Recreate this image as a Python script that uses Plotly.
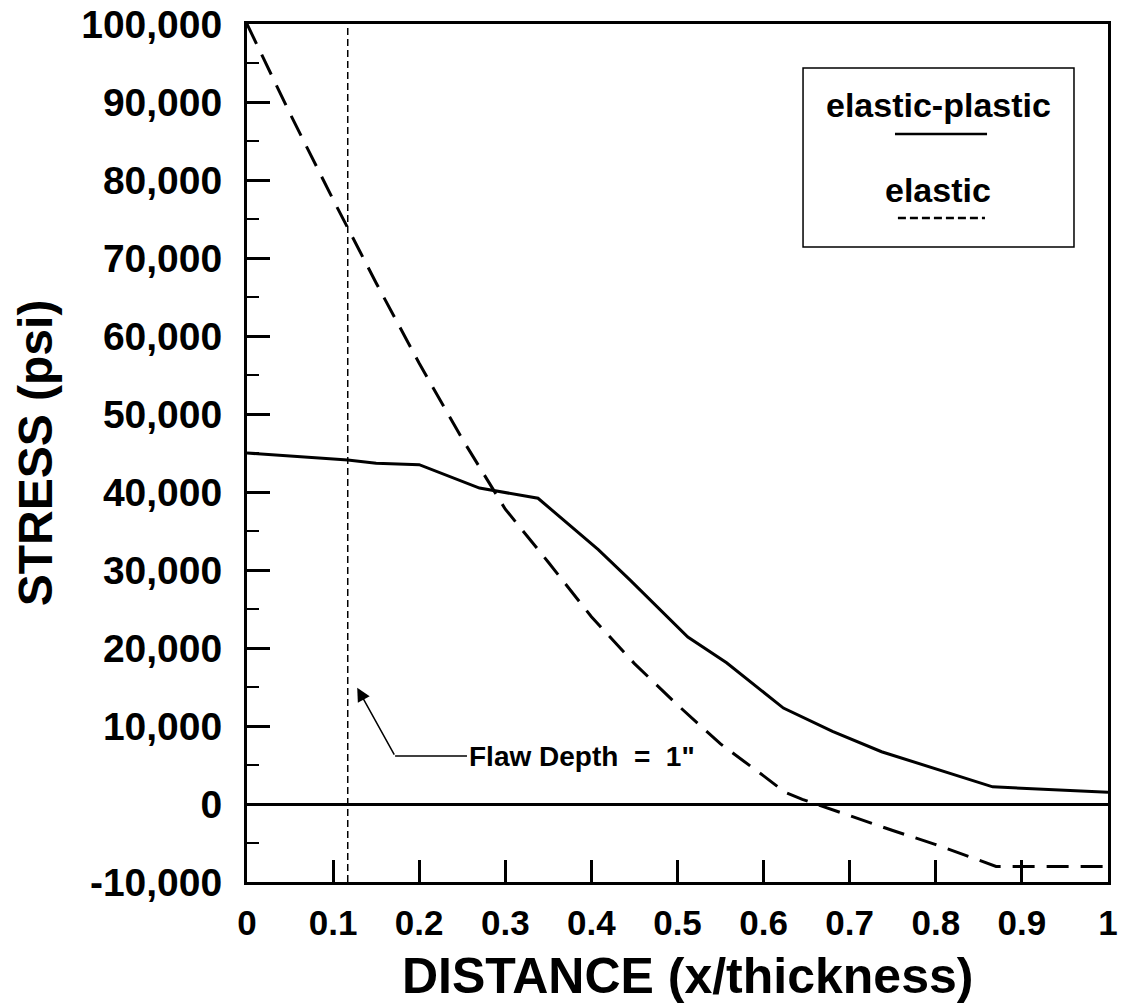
import plotly.graph_objects as go

# ---- data ----
elastic_x = [0, 0.05, 0.1, 0.15, 0.2, 0.25, 0.3, 0.35, 0.4, 0.45, 0.5, 0.55, 0.6, 0.625, 0.645, 0.7, 0.75, 0.8, 0.87, 1.0]
elastic_y = [100000, 88500, 77500, 66800, 56500, 46800, 37800, 31000, 24000, 18000, 12700, 7700, 3600, 1500, 600, -1500, -3400, -5200, -8000, -8000]

ep_x = [0, 0.06, 0.117, 0.15, 0.2, 0.27, 0.338, 0.408, 0.445, 0.512, 0.557, 0.623, 0.68, 0.737, 0.866, 1.0]
ep_y = [45000, 44500, 44100, 43700, 43500, 40500, 39200, 32600, 28700, 21400, 18100, 12300, 9300, 6700, 2200, 1500]

flaw_x = 0.117
arrow_head = (0.128, 14900)
arrow_elbow = (0.172, 6150)
flaw_label_x = 0.2555
flaw_label = "Flaw Depth\u00a0\u00a0=\u00a0\u00a01\""

x_title = "DISTANCE (x/thickness)"
y_title = "STRESS (psi)"
x_tick_vals = [0, 0.1, 0.2, 0.3, 0.4, 0.5, 0.6, 0.7, 0.8, 0.9, 1.0]
x_tick_text = ["0", "0.1", "0.2", "0.3", "0.4", "0.5", "0.6", "0.7", "0.8", "0.9", "1"]
y_tick_vals = [-10000, 0, 10000, 20000, 30000, 40000, 50000, 60000, 70000, 80000, 90000, 100000]
y_tick_text = ["-10,000", "0", "10,000", "20,000", "30,000", "40,000", "50,000",
               "60,000", "70,000", "80,000", "90,000", "100,000"]

FONT = "Liberation Sans, Arial, Helvetica, sans-serif"

fig = go.Figure()
fig.add_trace(go.Scatter(x=elastic_x, y=elastic_y, mode="lines",
                         line=dict(color="black", width=3, dash="22px,12px"),
                         name="elastic", showlegend=False))
fig.add_trace(go.Scatter(x=ep_x, y=ep_y, mode="lines",
                         line=dict(color="black", width=3),
                         name="elastic-plastic", showlegend=False))

# vertical flaw-depth line
fig.add_shape(type="line", xref="x", yref="paper", x0=flaw_x, x1=flaw_x, y0=0, y1=1,
              line=dict(color="black", width=1.5, dash="7px,4px"))

# flaw label leader
fig.add_shape(type="line", xref="x", yref="y", x0=arrow_elbow[0], x1=flaw_label_x,
              y0=arrow_elbow[1], y1=arrow_elbow[1], line=dict(color="black", width=1.5))
fig.add_annotation(x=arrow_head[0], y=arrow_head[1], ax=arrow_elbow[0], ay=arrow_elbow[1],
                   axref="x", ayref="y", xref="x", yref="y", text="", showarrow=True,
                   arrowhead=2, arrowsize=1.8, arrowwidth=1.5, arrowcolor="black", standoff=0)
fig.add_annotation(x=flaw_label_x, y=arrow_elbow[1], xref="x", yref="y", text=flaw_label,
                   showarrow=False, xanchor="left", yanchor="middle",
                   font=dict(family=FONT, size=28, color="black", weight="bold"))

# legend box (custom)
fig.add_shape(type="rect", xref="paper", yref="paper", x0=0.6458, x1=0.9605, y0=0.7401, y1=0.9487,
              line=dict(color="black", width=1.5), fillcolor="white", layer="below")
fig.add_annotation(x=0.8026, y=0.9056, xref="paper", yref="paper", text="elastic-plastic",
                   xanchor="center", yanchor="middle", showarrow=False,
                   font=dict(family=FONT, size=34, color="black", weight="bold"))
fig.add_shape(type="line", xref="paper", yref="paper", x0=0.7526, x1=0.8595, y0=0.8718, y1=0.8718,
              line=dict(color="black", width=2.5))
fig.add_annotation(x=0.8026, y=0.8065, xref="paper", yref="paper", text="elastic",
                   xanchor="center", yanchor="middle", showarrow=False,
                   font=dict(family=FONT, size=34, color="black", weight="bold"))
fig.add_shape(type="line", xref="paper", yref="paper", x0=0.7560, x1=0.8571, y0=0.7739, y1=0.7739,
              line=dict(color="black", width=2.5, dash="8px,4px"))

# x-axis title placed as annotation for exact position
fig.add_annotation(x=0.5116, y=-0.1096, xref="paper", yref="paper", text=x_title,
                   xanchor="center", yanchor="middle", showarrow=False,
                   font=dict(family=FONT, size=50, color="black", weight="bold"))

fig.update_layout(
    width=1121, height=1003,
    margin=dict(l=247, r=13, t=24, b=121),
    paper_bgcolor="white", plot_bgcolor="white",
    font=dict(family=FONT, color="black", weight="bold"),
    xaxis=dict(range=[0, 1], tickmode="array", tickvals=x_tick_vals, ticktext=x_tick_text,
               ticks="inside", ticklen=22, tickwidth=2.5, tickcolor="black",
               showline=True, linewidth=3, linecolor="black", mirror=True,
               showgrid=False, zeroline=False, automargin=False,
               tickfont=dict(family=FONT, size=35, weight="bold"), ticklabelstandoff=8),
    yaxis=dict(range=[-10000, 100000], tickmode="array", tickvals=y_tick_vals, ticktext=y_tick_text,
               ticks="inside", ticklen=23, tickwidth=2.5, tickcolor="black",
               minor=dict(ticks="inside", ticklen=12, tickwidth=2, tickcolor="black", dtick=5000,
                          tick0=5000, showgrid=False),
               showline=True, linewidth=3, linecolor="black", mirror=True,
               showgrid=False, zeroline=True, zerolinecolor="black", zerolinewidth=3,
               automargin=False,
               tickfont=dict(family=FONT, size=39, weight="bold"), ticklabelstandoff=14,
               title=dict(text=y_title, font=dict(family=FONT, size=48, weight="bold"),
                          standoff=14)),
)

fig.write_html("out.html")
